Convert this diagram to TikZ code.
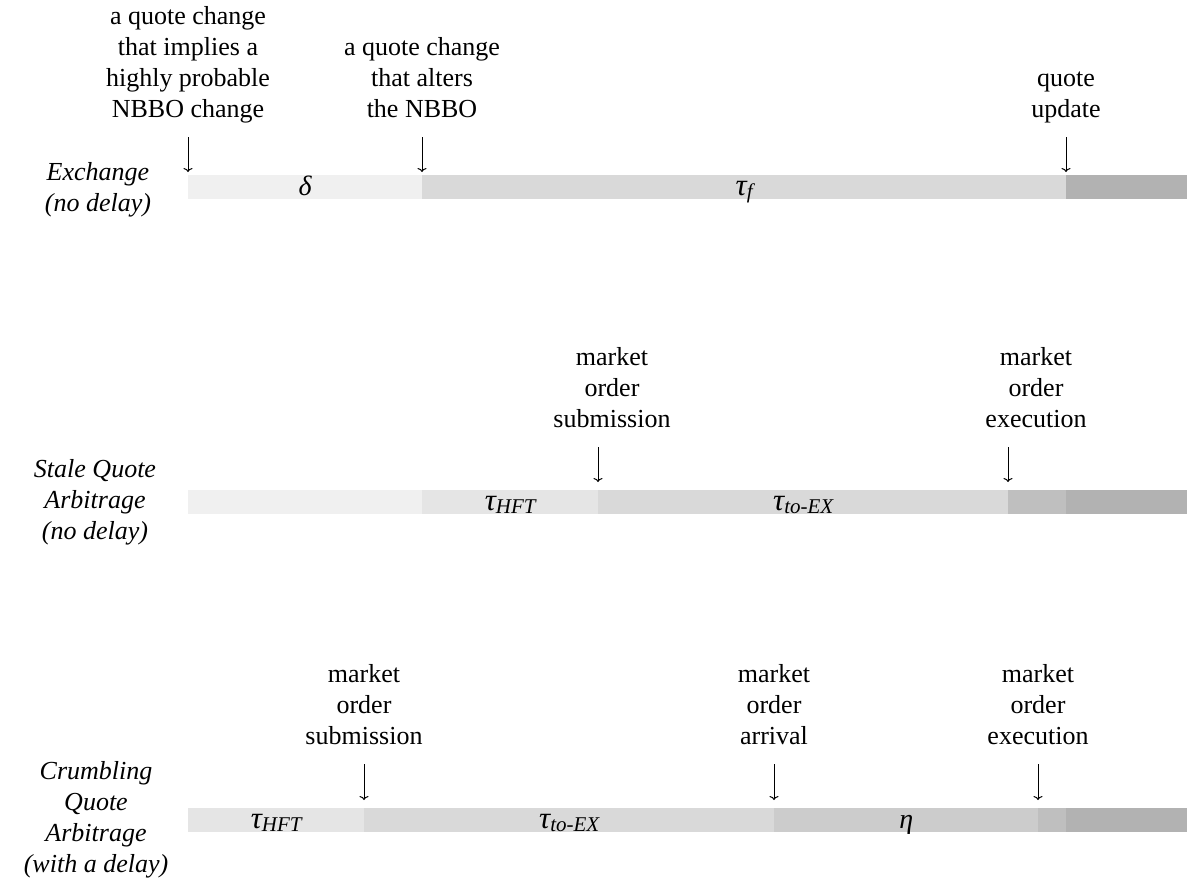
\documentclass[tikz,border=0pt]{standalone}
\usepackage{fontspec}
\setmainfont{Liberation Serif}
\usetikzlibrary{arrows.meta}
\definecolor{gA}{HTML}{F0F0F0}
\definecolor{gB}{HTML}{E5E5E5}
\definecolor{gC}{HTML}{D9D9D9}
\definecolor{gD}{HTML}{CCCCCC}
\definecolor{gE}{HTML}{BFBFBF}
\definecolor{gF}{HTML}{B2B2B2}
\newcommand{\gsym}[2]{{\fontsize{31}{31}\selectfont\itshape #1}\raisebox{-3pt}{\fontsize{21}{21}\selectfont\itshape #2}}
\begin{document}
\begin{tikzpicture}[x=1pt,y=-1pt,
  font=\fontsize{26}{31}\selectfont,
  seg/.style={draw=none, inner sep=0pt, minimum height=24pt, text height=20pt, text depth=3pt, anchor=north west},
  lbl/.style={align=center, anchor=south, inner sep=0pt},
  rowlbl/.style={align=center, font=\fontsize{26}{31}\selectfont\itshape, inner sep=0pt},
  evt/.style={-{To[length=4pt,width=9pt]}, line width=1pt}]
\useasboundingbox (0,0) rectangle (1187,886);

% ---------- Row 1 ----------
\node[seg, fill=gA, minimum width=234pt] (r1a) at (188,175) {{\fontsize{28}{28}\selectfont\itshape δ}};
\node[seg, fill=gC, minimum width=644pt] (r1b) at (422,175) {\gsym{τ}{f}};
\node[seg, fill=gF, minimum width=121pt] (r1c) at (1066,175) {};
\node[rowlbl] (r1l) at (98,190) {Exchange\\(no delay)};

\coordinate (e1a) at (188,137); \coordinate (e1b) at (422,137); \coordinate (e1c) at (1066,137);
\draw[evt, shorten >=3pt] (e1a) -- (r1a.north west);
\draw[evt, shorten >=3pt] (e1b) -- (r1b.north west);
\draw[evt, shorten >=3pt] (e1c) -- (r1c.north west);
\node[lbl] (t1a) at (188,126.5) {a quote change\\that implies a\\highly probable\\NBBO change\strut};
\node[lbl] (t1b) at (422,126.5) {a quote change\\that alters\\the NBBO\strut};
\node[lbl] (t1c) at (1066,126.5) {quote\\update\strut};

% ---------- Row 2 ----------
\node[seg, fill=gA, minimum width=234pt] (r2a) at (188,490) {};
\node[seg, fill=gB, minimum width=176pt] (r2b) at (422,490) {\gsym{τ}{HFT}};
\node[seg, fill=gC, minimum width=410pt] (r2c) at (598,490) {\gsym{τ}{to-EX}};
\node[seg, fill=gE, minimum width=58pt] (r2d) at (1008,490) {};
\node[seg, fill=gF, minimum width=121pt] (r2e) at (1066,490) {};
\node[rowlbl] (r2l) at (95,502) {Stale Quote\\Arbitrage\\(no delay)};

\coordinate (e2a) at (598,447); \coordinate (e2b) at (1008,447);
\draw[evt, shorten >=8pt] (e2a) -- (r2c.north west);
\draw[evt, shorten >=8pt] (e2b) -- (r2d.north west);
\node[lbl] (t2a) at (612,436.5) {market\\order\\submission\strut};
\node[lbl] (t2b) at (1036,436.5) {market\\order\\execution\strut};

% ---------- Row 3 ----------
\node[seg, fill=gB, minimum width=176pt] (r3a) at (188,808) {\gsym{τ}{HFT}};
\node[seg, fill=gC, minimum width=410pt] (r3b) at (364,808) {\gsym{τ}{to-EX}};
\node[seg, fill=gD, minimum width=264pt] (r3c) at (774,808) {{\fontsize{28}{28}\selectfont\itshape η}};
\node[seg, fill=gE, minimum width=28pt] (r3d) at (1038,808) {};
\node[seg, fill=gF, minimum width=121pt] (r3e) at (1066,808) {};
\node[rowlbl] (r3l) at (96,820) {Crumbling\\Quote\\Arbitrage\\(with a delay)};

\coordinate (e3a) at (364,764); \coordinate (e3b) at (774,764); \coordinate (e3c) at (1038,764);
\draw[evt, shorten >=8pt] (e3a) -- (r3b.north west);
\draw[evt, shorten >=8pt] (e3b) -- (r3c.north west);
\draw[evt, shorten >=8pt] (e3c) -- (r3d.north west);
\node[lbl] (t3a) at (364,753.5) {market\\order\\submission\strut};
\node[lbl] (t3b) at (774,753.5) {market\\order\\arrival\strut};
\node[lbl] (t3c) at (1038,753.5) {market\\order\\execution\strut};
\end{tikzpicture}
\end{document}
